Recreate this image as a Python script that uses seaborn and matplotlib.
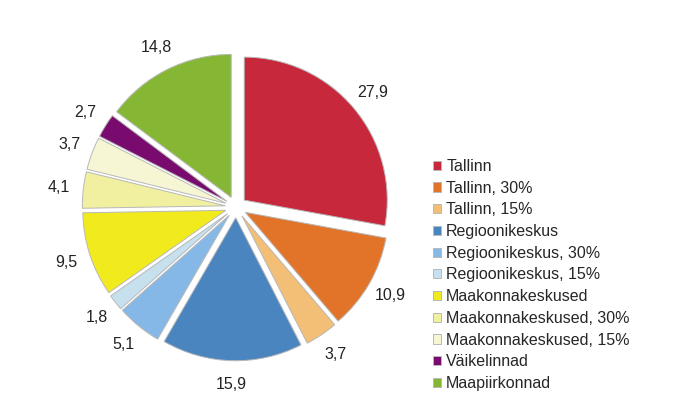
import matplotlib
matplotlib.use("Agg")
import matplotlib.pyplot as plt
import seaborn as sns

# Data
categories = ["Tallinn", "Tallinn, 30%", "Tallinn, 15%",
              "Regioonikeskus", "Regioonikeskus, 30%", "Regioonikeskus, 15%",
              "Maakonnakeskused", "Maakonnakeskused, 30%", "Maakonnakeskused, 15%",
              "Väikelinnad", "Maapiirkonnad"]
values = [27.9, 10.9, 3.7, 15.9, 5.1, 1.8, 9.5, 4.1, 3.7, 2.7, 14.8]
colors = ["#C8283C", "#E2742A", "#F3BE75",
          "#4A85C0", "#85B8E6", "#C6E0EE",
          "#F1EB1E", "#F0F0A0", "#F6F6D4",
          "#7A0B6E", "#85B734"]

sns.set_theme(style="white")
plt.rcParams["font.family"] = ["Liberation Sans", "DejaVu Sans"]

fig = plt.figure(figsize=(6.73, 4.17), dpi=100)
scale = 143  # pixels per pie radius
ax = fig.add_axes([(236 - 1.3 * scale) / 673, (210 - 1.3 * scale) / 417,
                   2.6 * scale / 673, 2.6 * scale / 417])

value_labels = [f"{v:.1f}".replace(".", ",") for v in values]
wedges, texts = ax.pie(values, labels=value_labels, colors=colors,
                       startangle=90, counterclock=False,
                       explode=[0.075] * len(values), labeldistance=1.17,
                       wedgeprops=dict(edgecolor="#b8b8b8", linewidth=0.7),
                       textprops=dict(fontsize=11.5, color="#222222"))
for t in texts:
    t.set_ha("center")
    t.set_va("center")
ax.set_xlim(-1.3, 1.3)
ax.set_ylim(-1.3, 1.3)
ax.set_aspect("equal")
ax.axis("off")

fig.legend(wedges, categories, loc="center left",
           bbox_to_anchor=(427 / 673, 1 - 275 / 417), frameon=False,
           fontsize=11.5, handlelength=0.5, handleheight=0.5,
           handletextpad=0.3, labelspacing=0.42, borderaxespad=0)

fig.savefig("out.png", dpi=100, facecolor="white")
